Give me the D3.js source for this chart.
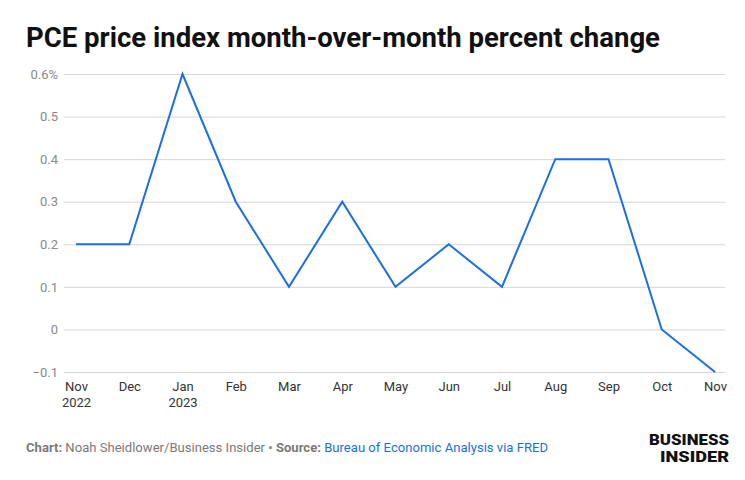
<!DOCTYPE html>
<html><head><meta charset="utf-8">
<script src="https://cdn.jsdelivr.net/npm/d3@7"></script>
<style>body{margin:0;background:#fff}svg{display:block}</style>
</head><body><div id="chart"></div>
<script>
const months = ["Nov","Dec","Jan","Feb","Mar","Apr","May","Jun","Jul","Aug","Sep","Oct","Nov"];
const yearLabels = ["2022","","2023","","","","","","","","","",""];
const values = [0.2,0.2,0.6,0.3,0.1,0.3,0.1,0.2,0.1,0.4,0.4,0.0,-0.1];
const yTicks = [-0.1,0,0.1,0.2,0.3,0.4,0.5,0.6];
const yTickLabels = ["\u22120.1","0","0.1","0.2","0.3","0.4","0.5","0.6%"];

const W=745,H=480;
const svg=d3.select("#chart").append("svg").attr("width",W).attr("height",H);
const font="Roboto, 'Noto Sans', sans-serif";

const x=d3.scalePoint().domain(d3.range(months.length)).range([76,715]);
const y=d3.scaleLinear().domain([-0.1,0.6]).range([372,74]);

svg.append("text").attr("x",26).attr("y",47).attr("font-family",font).attr("font-weight",700)
  .attr("font-size",27).attr("fill","#111").attr("textLength",634).attr("lengthAdjust","spacingAndGlyphs")
  .text("PCE price index month-over-month percent change");

const yAxis=d3.axisLeft(y).tickValues(yTicks).tickSize(0).tickFormat((d,i)=>yTickLabels[i]);
const gy=svg.append("g").attr("transform","translate(64,0)").call(yAxis);
gy.select(".domain").remove();
gy.selectAll("text").attr("x",-6).attr("font-family",font).attr("font-size",13).attr("fill","#8a8a8a");
gy.selectAll(".tick").append("line").attr("x1",0).attr("x2",725-64).attr("stroke","#d6d6d6").attr("stroke-width",1);

const xAxis=d3.axisBottom(x).tickSize(0).tickFormat(i=>months[i]);
const gx=svg.append("g").attr("transform","translate(0,376)").call(xAxis);
gx.select(".domain").remove();
gx.selectAll("text").attr("font-family",font).attr("font-size",13).attr("fill","#333").attr("dy","0.71em").attr("y",6);
gx.selectAll(".tick").append("text").attr("y",22).attr("dy","0.71em").attr("text-anchor","middle")
  .attr("font-family",font).attr("font-size",13).attr("fill","#333").text((i)=>yearLabels[i]);

const line=d3.line().x((d,i)=>x(i)).y(d=>y(d));
svg.append("path").datum(values).attr("d",line).attr("fill","none").attr("stroke","#1a6fe3").attr("stroke-width",2).attr("stroke-linejoin","miter");

const foot=svg.append("text").attr("x",26).attr("y",452).attr("font-family",font).attr("font-size",13).attr("fill","#7a7a7a")
  .attr("textLength",522).attr("lengthAdjust","spacingAndGlyphs");
foot.append("tspan").attr("font-weight",700).text("Chart: ");
foot.append("tspan").text("Noah Sheidlower/Business Insider \u2022 ");
foot.append("tspan").attr("font-weight",700).text("Source: ");
foot.append("tspan").attr("fill","#1a6fe3").text("Bureau of Economic Analysis via FRED");

svg.append("text").attr("x",729).attr("y",445).attr("text-anchor","end").attr("font-family",font).attr("font-weight",900)
  .attr("font-size",15).attr("fill","#111").attr("textLength",80).attr("lengthAdjust","spacingAndGlyphs").text("BUSINESS");
svg.append("text").attr("x",729).attr("y",462).attr("text-anchor","end").attr("font-family",font).attr("font-weight",900)
  .attr("font-size",15).attr("fill","#111").attr("textLength",69).attr("lengthAdjust","spacingAndGlyphs").text("INSIDER");
</script></body></html>
